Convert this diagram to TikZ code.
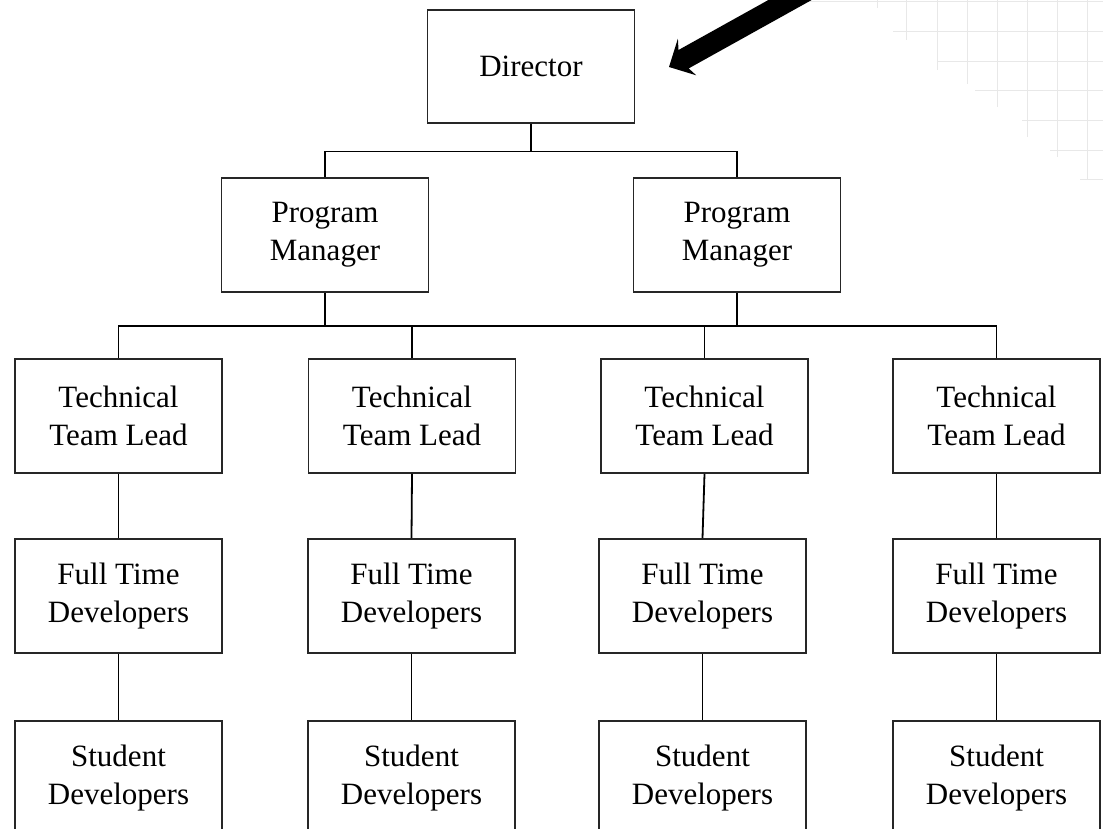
\documentclass[tikz,border=0pt]{standalone}
\usepackage{fontspec}
\setmainfont{Liberation Serif}
\begin{document}
\begin{tikzpicture}[x=1pt,y=-1pt,
  box/.style={draw=black!85,line width=1.6pt,rectangle,minimum width=207pt,minimum height=114pt,inner sep=0pt,align=center,font=\fontsize{31}{38}\selectfont},
  conn/.style={draw=black,line width=1.8pt},
  gridline/.style={draw=black!9,line width=0.8pt}]
\clip (0,0) rectangle (1103,829);
\fill[white] (0,0) rectangle (1103,829);
% faint background grid (top right)
\foreach \x/\e in {877/8,906/40,937/70,967/84,997/107,1027/137,1057/157,1087/180}
  \draw[gridline] (\x,0) -- (\x,\e);
\foreach \y/\s in {1/800,31/893,61/937,90/975,120/1022,150/1050,179/1080}
  \draw[gridline] (\s,\y) -- (1103,\y);
% nodes
\node[box,minimum height=113pt] (dir) at (531,66.5) {Director};
\node[box] (pm1) at (325,235) {Program\\Manager};
\node[box] (pm2) at (737,235) {Program\\Manager};
\node[box] (t1) at (118.5,416) {Technical\\Team Lead};
\node[box] (t2) at (412,416) {Technical\\Team Lead};
\node[box] (t3) at (704.5,416) {Technical\\Team Lead};
\node[box] (t4) at (996.5,416) {Technical\\Team Lead};
\node[box] (f1) at (118.5,596) {Full Time\\Developers};
\node[box] (f2) at (411.5,596) {Full Time\\Developers};
\node[box] (f3) at (702.5,596) {Full Time\\Developers};
\node[box] (f4) at (996.5,596) {Full Time\\Developers};
\node[box] (s1) at (118.5,778) {Student\\Developers};
\node[box] (s2) at (411.5,778) {Student\\Developers};
\node[box] (s3) at (702.5,778) {Student\\Developers};
\node[box] (s4) at (996.5,778) {Student\\Developers};
% bus levels
\coordinate (bus1) at (0,151.5);
\coordinate (bus2) at (0,326);
% connectors
\draw[conn] (dir.south) -- (dir.south |- bus1);
\draw[conn] (pm1.north) |- (pm2.north |- bus1) -- (pm2.north);
\draw[conn] (pm1.south) -- (pm1.south |- bus2);
\draw[conn] (pm2.south) -- (pm2.south |- bus2);
\draw[conn] (t1.north) |- (t4.north |- bus2) -- (t4.north);
\draw[conn] (t2.north) -- (t2.north |- bus2);
\draw[conn] (t3.north) -- (t3.north |- bus2);
\foreach \i in {1,2,3,4} {
  \draw[conn] (t\i.south) -- (f\i.north);
  \draw[conn] (f\i.south) -- (s\i.north);
}
% big pointer arrow
\coordinate (tip) at (669,67);
\fill[black] (tip) -- ++(27.2,8.3) -- ++(-7.5,-6.9) -- ++(128,-71.2)
  -- ++(-10.2,-18.4) -- ++(-128,71.2) -- ++(-0.6,-11.4) -- cycle;
\end{tikzpicture}
\end{document}
